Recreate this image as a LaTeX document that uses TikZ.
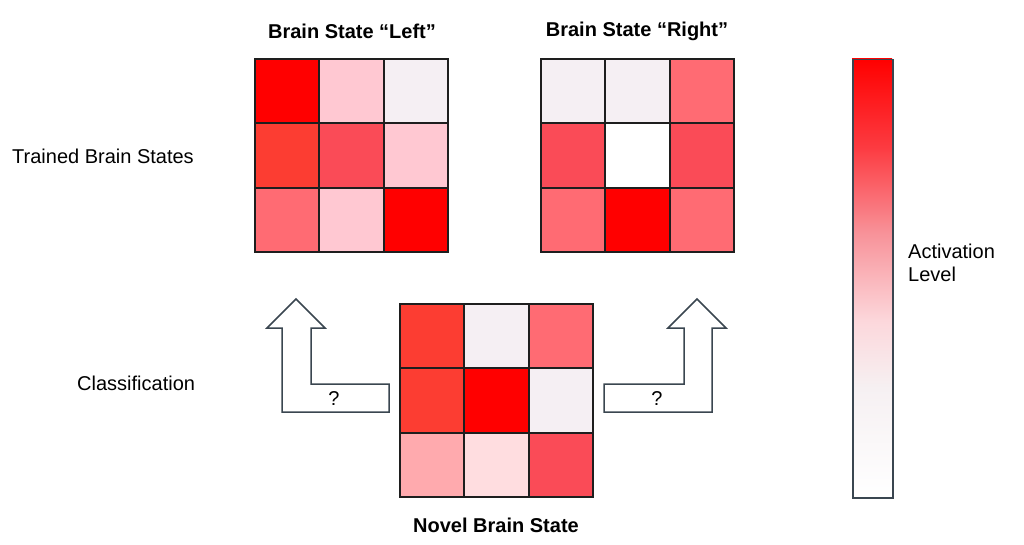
\documentclass[tikz,border=0pt]{standalone}
\usepackage{fontspec}
\setmainfont{Liberation Sans}
\definecolor{cA}{HTML}{FF0000}
\definecolor{cB}{HTML}{FC3D32}
\definecolor{cC}{HTML}{FA4B57}
\definecolor{cD}{HTML}{FF6B73}
\definecolor{cE}{HTML}{FFC8D2}
\definecolor{cF}{HTML}{F5EFF3}
\definecolor{cG}{HTML}{FFAAAE}
\definecolor{cH}{HTML}{FFDDE0}
\definecolor{cW}{HTML}{FFFFFF}
\definecolor{gridc}{HTML}{1E1E1E}
\definecolor{arrc}{HTML}{3A4650}
\definecolor{barB}{HTML}{FC3A40}
\definecolor{barC}{HTML}{F8939A}
\definecolor{barD}{HTML}{FCD8DC}
\definecolor{barE}{HTML}{F6F0F2}
\pgfdeclareverticalshading{actbar}{100bp}{color(0bp)=(white); color(25bp)=(white); color(37.5bp)=(barE); color(45bp)=(barD); color(55bp)=(barC); color(65bp)=(barB); color(75bp)=(red); color(100bp)=(red)}
\tikzset{
  cell/.style={draw=gridc, line width=1.8pt, minimum size=64.33pt, inner sep=0pt, outer sep=0pt},
  lbl/.style={font=\fontsize{20}{23}\selectfont, inner sep=0pt, text=black},
  ttl/.style={font=\fontsize{20}{23}\selectfont\bfseries, inner sep=0pt, text=black},
  blockarrow/.style={draw=arrc, line width=1.5pt, fill=white, line join=miter}
}
\newcommand\brgrid[4]{%
  \foreach \c [count=\i from 0] in {#3} {%
    \pgfmathtruncatemacro\gcol{mod(\i,3)}%
    \pgfmathtruncatemacro\grow{div(\i,3)}%
    \node[cell, fill=\c] (#4-\i) at ({#1+\gcol*64.33+32.17},{#2+\grow*64.33+32.17}) {};
  }%
}
\begin{document}
\begin{tikzpicture}[x=1pt,y=-1pt]
\useasboundingbox (0,0) rectangle (1024,545);
% grids
\brgrid{255}{59}{cA,cE,cF,cB,cC,cE,cD,cE,cA}{left}
\brgrid{541}{59}{cF,cF,cD,cC,cW,cC,cD,cA,cD}{right}
\brgrid{400}{304}{cB,cF,cD,cB,cA,cF,cG,cH,cC}{novel}
% titles
\node[ttl] (tleft) at (352,31.5) {Brain State “Left”};
\node[ttl] (tright) at (637,31.5) {Brain State “Right”};
\node[ttl] (tnovel) at (496,525) {Novel Brain State};
\node[lbl, anchor=west] (trained) at (12,156) {Trained Brain States};
\node[lbl, anchor=west] (classif) at (77,383) {Classification};
% block arrows
\draw[blockarrow] (282,412) -- (389,412) -- (389,384) -- (311,384) -- (311,328) -- (325,328) -- (296,299) -- (267,328) -- (282,328) -- cycle;
\draw[blockarrow] (604,412) -- (712,412) -- (712,328) -- (726,328) -- (697,299) -- (668,328) -- (684,328) -- (684,384) -- (604,384) -- cycle;
\node[lbl] (qleft) at (334,399) {?};
\node[lbl] (qright) at (657,399) {?};
% colour bar
\path[shading=actbar] (852,59) rectangle (892,497);
\node[draw=arrc, line width=1.5pt, minimum width=40pt, minimum height=438pt, inner sep=0pt, anchor=north west] (bar) at (852,59) {};
\node[lbl, anchor=west, align=left] (act) at (908,262.5) {Activation\\Level};
\end{tikzpicture}
\end{document}
